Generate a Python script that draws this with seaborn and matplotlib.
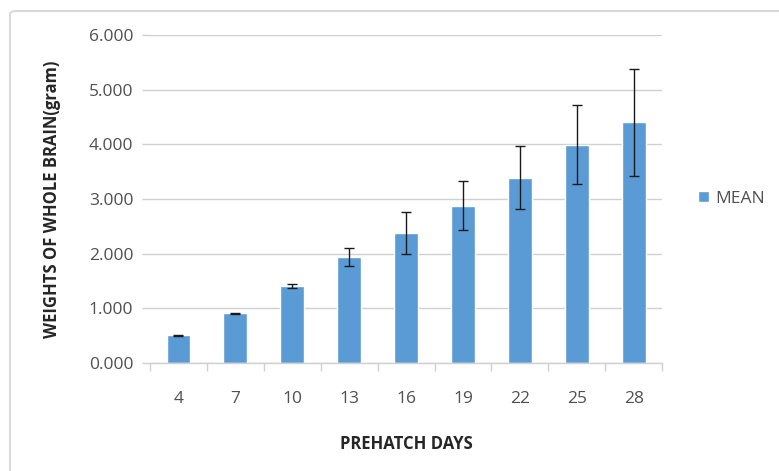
import numpy as np
import pandas as pd
import seaborn as sns
import matplotlib.pyplot as plt
from matplotlib.patches import FancyBboxPatch

days = ["4", "7", "10", "13", "16", "19", "22", "25", "28"]
mean_weight = [0.51, 0.91, 1.41, 1.94, 2.38, 2.88, 3.39, 3.99, 4.40]
err_weight = [0.005, 0.012, 0.04, 0.16, 0.38, 0.45, 0.57, 0.72, 0.98]

BLUE = "#5B9BD5"
GRID = "#D0D0D0"
TEXT = "#505050"

sns.set_theme(style="white")
plt.rcParams["font.family"] = ["Open Sans", "DejaVu Sans"]

df = pd.DataFrame({"day": days, "mean": mean_weight, "err": err_weight})

fig = plt.figure(figsize=(7.79, 4.71), dpi=100)
ax = fig.add_axes([0.1926, 0.229, 0.6574, 0.697])

sns.barplot(data=df, x="day", y="mean", color=BLUE, width=0.42,
            saturation=1, ax=ax, label="MEAN", zorder=2)
ax.errorbar(np.arange(len(days)), df["mean"], yerr=df["err"], fmt="none",
            ecolor="#1a1a1a", elinewidth=1, capsize=3.5, capthick=1, zorder=3)

ax.set_ylim(0, 6)
ax.set_xlim(-0.5, len(days) - 0.5)
ax.set_yticks(np.arange(0, 7, 1))
ax.set_yticklabels([f"{v:.3f}" for v in np.arange(0, 7, 1)])
ax.yaxis.grid(True, color=GRID, linewidth=1)
ax.set_axisbelow(True)

for side in ["top", "right", "left"]:
    ax.spines[side].set_visible(False)
ax.spines["bottom"].set_color(GRID)
ax.spines["bottom"].set_linewidth(1)

# x ticks between categories
ax.set_xticks(np.arange(-0.5, len(days), 1), minor=True)
ax.tick_params(axis="x", which="minor", length=6, color=GRID, width=1, direction="out", bottom=True)
ax.tick_params(axis="x", which="major", length=0, pad=20, labelsize=12.5, labelcolor=TEXT)
ax.tick_params(axis="y", length=6, color=GRID, width=1, left=True, pad=6, labelsize=12.5, labelcolor=TEXT)

ax.set_xlabel("PREHATCH DAYS", fontsize=12, fontweight="bold", color="#262626", labelpad=20)
ax.set_ylabel("WEIGHTS OF WHOLE BRAIN(gram)", fontsize=12, fontweight="bold", color="#262626", labelpad=20)

leg = ax.legend(loc="center left", bbox_to_anchor=(1.04, 0.5), frameon=False,
                fontsize=12.5, handlelength=0.6, handleheight=0.6, handletextpad=0.4)
for t in leg.get_texts():
    t.set_color(TEXT)

border = FancyBboxPatch((10 / 779, -0.05), 1.0, 1 - 11 / 471 + 0.05,
                        boxstyle="round,pad=0,rounding_size=0.008",
                        transform=fig.transFigure, fill=False,
                        edgecolor="#D9D9D9", linewidth=1.5)
fig.patches.append(border)

fig.savefig("out.png", dpi=100)
